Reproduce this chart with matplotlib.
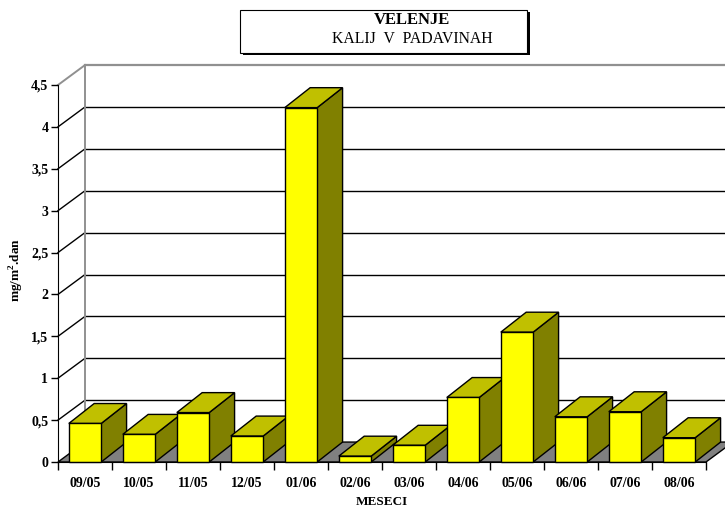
import matplotlib
matplotlib.use("Agg")
import matplotlib.pyplot as plt
from matplotlib.patches import Polygon, Rectangle

plt.rcParams['font.family'] = ['Liberation Serif', 'DejaVu Serif']
plt.rcParams['mathtext.fontset'] = 'custom'
plt.rcParams['mathtext.rm'] = 'Liberation Serif'
plt.rcParams['mathtext.bf'] = 'Liberation Serif:bold'

months = ["09/05", "10/05", "11/05", "12/05", "01/06", "02/06",
          "03/06", "04/06", "05/06", "06/06", "07/06", "08/06"]
kalij = [0.46, 0.33, 0.59, 0.31, 4.23, 0.07, 0.20, 0.77, 1.55, 0.54, 0.60, 0.29]
y_ticks = [0, 0.5, 1, 1.5, 2, 2.5, 3, 3.5, 4, 4.5]
y_tick_labels = ["0", "0,5", "1", "1,5", "2", "2,5", "3", "3,5", "4", "4,5"]

fig = plt.figure(figsize=(7.25, 5.08), dpi=100)
ax = fig.add_axes([58 / 725, 1 - 462 / 508, (706 - 58) / 725, (462 - 85) / 508])
n = len(months)
ymax = 4.5
ax.set_xlim(0, n)
ax.set_ylim(0, ymax)

# oblique depth offset (data units)
DX, DY = 0.5, 0.238
BDX = 0.47
BW = 0.6

# back wall and its gridlines
ax.add_patch(Polygon([(DX, DY), (n + DX, DY), (n + DX, ymax + DY), (DX, ymax + DY)],
                     closed=True, facecolor="white", edgecolor="none", zorder=0, clip_on=False))
for v in y_ticks[1:-1]:
    ax.plot([DX, n + DX], [v + DY, v + DY], color="black", lw=1.0, zorder=1, clip_on=False)
    ax.plot([0, DX], [v, v + DY], color="black", lw=1.0, zorder=1, clip_on=False)
ax.plot([DX, n + DX], [ymax + DY, ymax + DY], color="#909090", lw=1.6, zorder=1, clip_on=False)
ax.plot([0, DX], [ymax, ymax + DY], color="#909090", lw=1.4, zorder=1, clip_on=False)
ax.plot([DX, DX], [DY, ymax + DY], color="#909090", lw=1.4, zorder=1, clip_on=False)

# floor
ax.add_patch(Polygon([(0, 0), (n, 0), (n + DX, DY), (DX, DY)], closed=True,
                     facecolor="#808080", edgecolor="black", lw=1.0, zorder=2, clip_on=False))

# 3D columns
for i, v in enumerate(kalij):
    x0 = i + 0.5 - BW / 2
    x1 = x0 + BW
    z = 3 + i
    ax.add_patch(Polygon([(x1, 0), (x1 + BDX, DY), (x1 + BDX, v + DY), (x1, v)], closed=True,
                         facecolor="#808000", edgecolor="black", lw=1.0, zorder=z, clip_on=False))
    ax.add_patch(Polygon([(x0, v), (x1, v), (x1 + BDX, v + DY), (x0 + BDX, v + DY)], closed=True,
                         facecolor="#C0C000", edgecolor="black", lw=1.0, zorder=z, clip_on=False))
    ax.add_patch(Rectangle((x0, 0), BW, v, facecolor="#FFFF00", edgecolor="black",
                           lw=1.0, zorder=z + 0.5, clip_on=False))

for s in ["top", "right"]:
    ax.spines[s].set_visible(False)
ax.spines["left"].set_zorder(30)
ax.spines["bottom"].set_zorder(30)
ax.set_yticks(y_ticks)
ax.set_yticklabels(y_tick_labels, fontsize=10, fontweight="bold")
ax.set_xticks(range(n + 1))
ax.set_xticklabels([])
ax.set_xticks([i + 0.5 for i in range(n)], minor=True)
ax.set_xticklabels(months, minor=True, fontsize=10, fontweight="bold")
ax.tick_params(axis="x", which="major", length=6, direction="out", width=1)
ax.tick_params(axis="x", which="minor", length=0, pad=11)
ax.tick_params(axis="y", length=5, direction="out", width=1, pad=2)
ax.patch.set_visible(False)

fig.text(17 / 725, 1 - 270 / 508, r"mg/m$^\mathbf{2}$.dan", rotation=90, ha="center",
         va="center", fontsize=9.5, fontweight="bold")
fig.text(382 / 725, 1 - 502 / 508, "MESECI", ha="center", va="center",
         fontsize=9.5, fontweight="bold")

# title box with shadow
fig.patches.append(Rectangle((243 / 725, 1 - 55 / 508), 287 / 725, 43 / 508,
                             transform=fig.transFigure, facecolor="black", edgecolor="none"))
fig.patches.append(Rectangle((240 / 725, 1 - 53 / 508), 287 / 725, 43 / 508,
                             transform=fig.transFigure, facecolor="white", edgecolor="black", lw=0.8))
fig.text(412 / 725, 1 - 20 / 508, "VELENJE", ha="center", va="center",
         fontsize=12, fontweight="bold")
fig.text(412 / 725, 1 - 39 / 508, "KALIJ  V  PADAVINAH", ha="center", va="center",
         fontsize=11.3)

fig.savefig("out.png", dpi=100)
